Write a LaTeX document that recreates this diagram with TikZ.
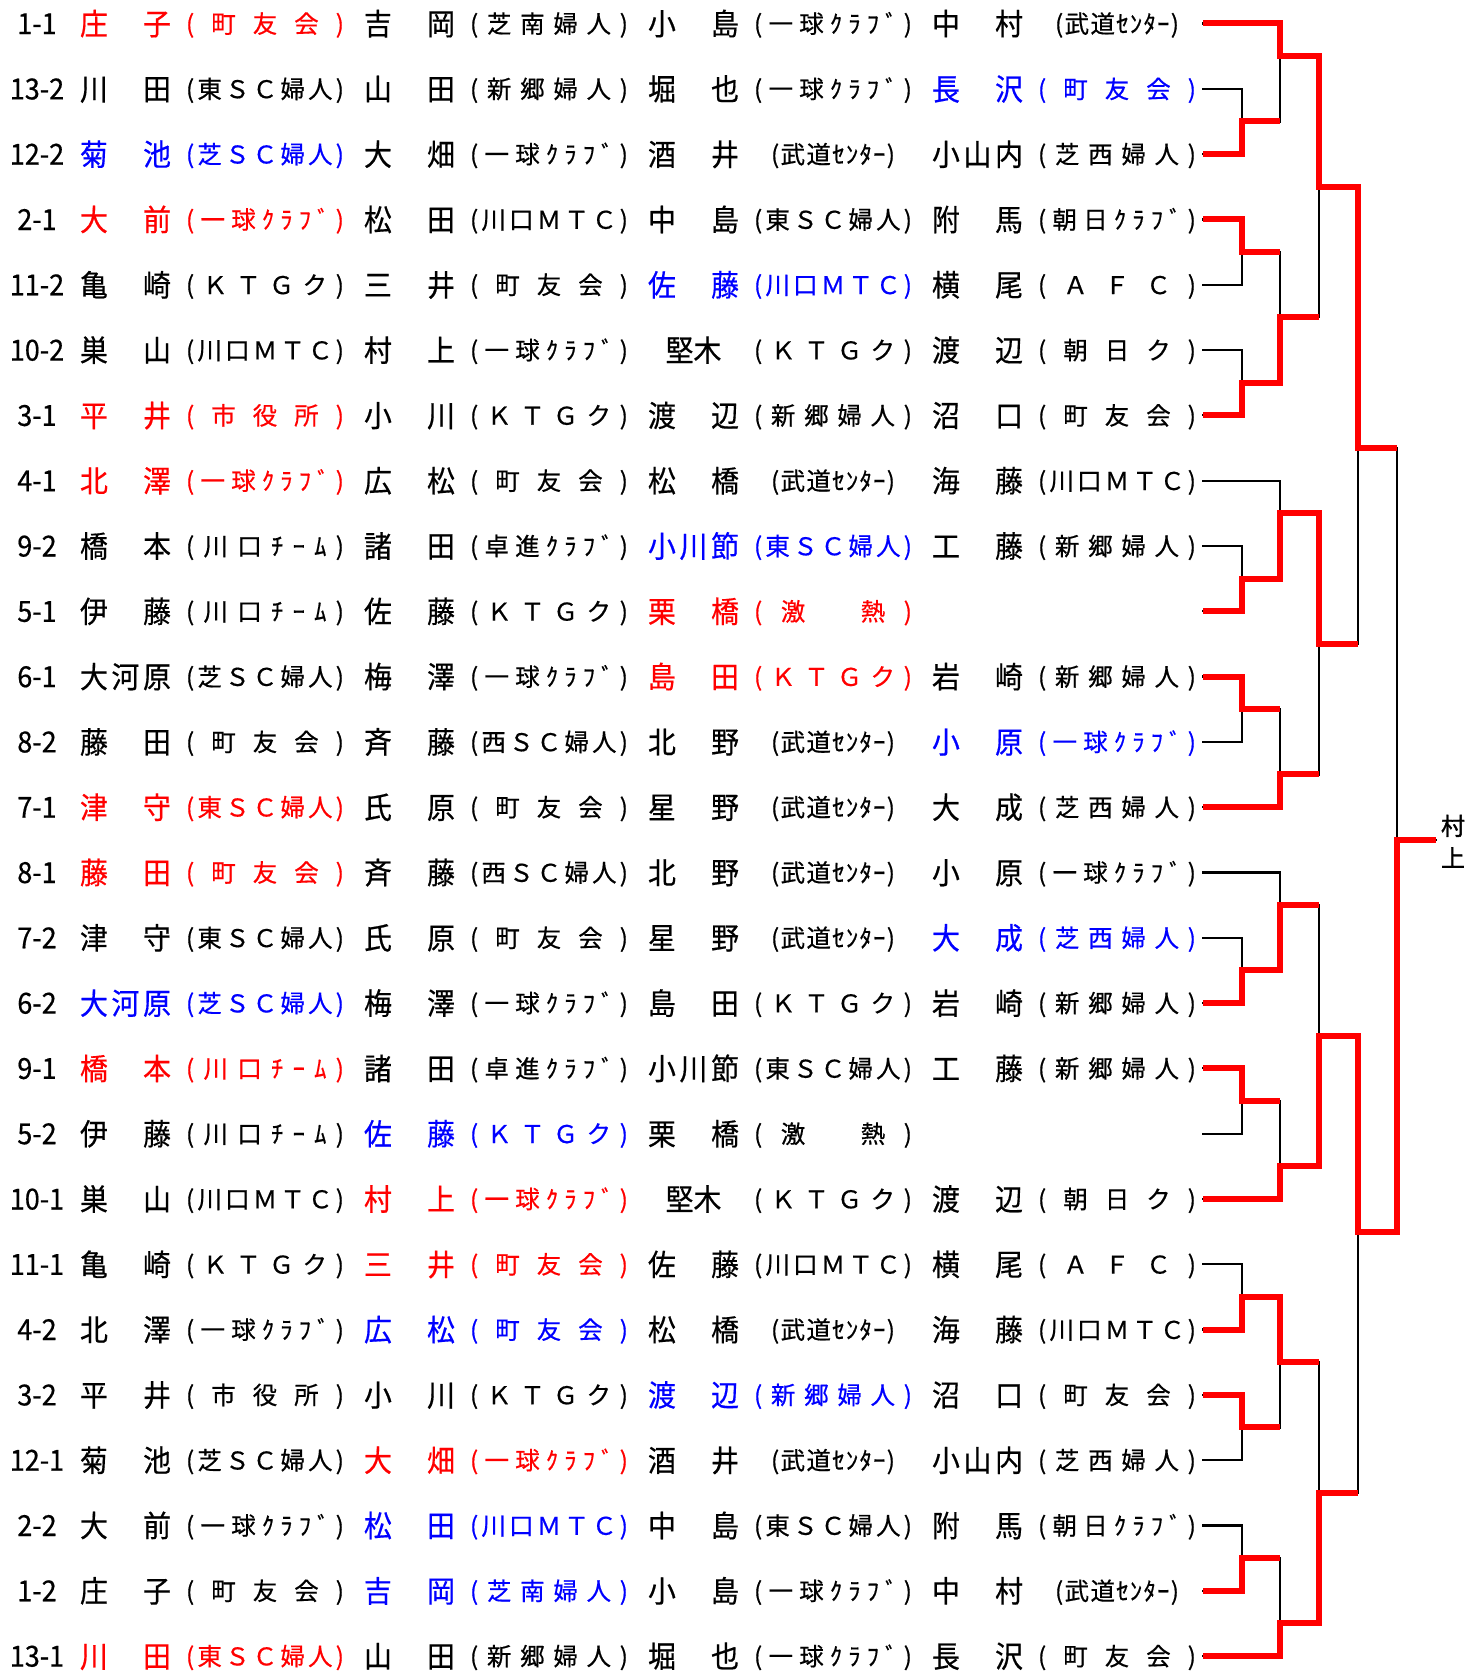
\documentclass[tikz,border=0pt]{standalone}
\usepackage{fontspec}
\newfontfamily\jp[FakeBold=0.5]{Noto Sans CJK JP}
\newfontfamily\jpn[FakeBold=0.5,FakeStretch=0.93]{Noto Sans CJK JP}
\newfontfamily\jpb[FakeBold=1.5]{Noto Sans CJK JP}
\definecolor{rd}{RGB}{255,0,0}
\definecolor{bl}{RGB}{0,0,255}
\makeatletter
\def\spread#1{\spread@a#1\@nil}
\def\spread@a#1{#1\spread@b}
\def\spread@b#1{\ifx\@nil#1\else\hfill#1\expandafter\spread@b\fi}
\makeatother
\newcommand\nmbox[1]{\makebox[91pt][s]{\spread{#1}}}
\newcommand\nmctr[1]{\makebox[91pt][c]{#1}}
\newcommand\clbox[1]{\makebox[158pt][s]{\spread{(#1)}}}
\newcommand\cwbox[1]{\makebox[124pt][s]{\spread{(#1)}}}
\newcommand\gkbox{\makebox[158pt][s]{(\hfill 激\hfill\hfill\hfill 熱\hfill )}}
\newcommand\ry[1]{(23.5+(#1-1)*65.3)}
\tikzset{
  nmtxt/.style={inner sep=0pt, anchor=base, font=\jpn\fontsize{30}{32}\selectfont},
  cltxt/.style={inner sep=0pt, anchor=base, font=\jp\fontsize{24.5}{26}\selectfont},
  lbtxt/.style={inner sep=0pt, anchor=base, font=\jpn\fontsize{29}{30}\selectfont},
  wintxt/.style={inner sep=0pt, anchor=base, font=\jpb\fontsize{24}{26}\selectfont},
  blk/.style={draw=black, line width=2.2pt, line cap=rect, line join=miter},
  redl/.style={draw=rd, line width=6pt, line cap=butt, line join=miter},
}
\newcommand\lab[2]{\node[lbtxt] (l#1) at (37,{\ry{#1}+10.6}) {#2};}
\newcommand\cell[5]{%
  \node[nmtxt, text=#3] (n#1x#2) at ({80+284*(#2-1)+45.5},{\ry{#1}+11.5}) {#4};
  \node[cltxt, text=#3] (k#1x#2) at ({80+284*(#2-1)+185},{\ry{#1}+9.4}) {#5};}
\begin{document}
\begin{tikzpicture}[x=1pt,y=-1pt]
\useasboundingbox (0,0) rectangle (1483,1672);
\fill[white] (0,0) rectangle (1483,1672);
% ---------- rows ----------
\lab{1}{1-1}
\cell{1}{1}{rd}{\nmbox{庄子}}{\clbox{町友会}}
\cell{1}{2}{black}{\nmbox{吉岡}}{\clbox{芝南婦人}}
\cell{1}{3}{black}{\nmbox{小島}}{\clbox{一球ｸﾗﾌﾞ}}
\cell{1}{4}{black}{\nmbox{中村}}{\cwbox{武道ｾﾝﾀｰ}}
\lab{2}{13-2}
\cell{2}{1}{black}{\nmbox{川田}}{\clbox{東ＳＣ婦人}}
\cell{2}{2}{black}{\nmbox{山田}}{\clbox{新郷婦人}}
\cell{2}{3}{black}{\nmbox{堀也}}{\clbox{一球ｸﾗﾌﾞ}}
\cell{2}{4}{bl}{\nmbox{長沢}}{\clbox{町友会}}
\lab{3}{12-2}
\cell{3}{1}{bl}{\nmbox{菊池}}{\clbox{芝ＳＣ婦人}}
\cell{3}{2}{black}{\nmbox{大畑}}{\clbox{一球ｸﾗﾌﾞ}}
\cell{3}{3}{black}{\nmbox{酒井}}{\cwbox{武道ｾﾝﾀｰ}}
\cell{3}{4}{black}{\nmbox{小山内}}{\clbox{芝西婦人}}
\lab{4}{2-1}
\cell{4}{1}{rd}{\nmbox{大前}}{\clbox{一球ｸﾗﾌﾞ}}
\cell{4}{2}{black}{\nmbox{松田}}{\clbox{川口ＭＴＣ}}
\cell{4}{3}{black}{\nmbox{中島}}{\clbox{東ＳＣ婦人}}
\cell{4}{4}{black}{\nmbox{附馬}}{\clbox{朝日ｸﾗﾌﾞ}}
\lab{5}{11-2}
\cell{5}{1}{black}{\nmbox{亀崎}}{\clbox{ＫＴＧク}}
\cell{5}{2}{black}{\nmbox{三井}}{\clbox{町友会}}
\cell{5}{3}{bl}{\nmbox{佐藤}}{\clbox{川口ＭＴＣ}}
\cell{5}{4}{black}{\nmbox{横尾}}{\clbox{ＡＦＣ}}
\lab{6}{10-2}
\cell{6}{1}{black}{\nmbox{巣山}}{\clbox{川口ＭＴＣ}}
\cell{6}{2}{black}{\nmbox{村上}}{\clbox{一球ｸﾗﾌﾞ}}
\cell{6}{3}{black}{\nmctr{堅木}}{\clbox{ＫＴＧク}}
\cell{6}{4}{black}{\nmbox{渡辺}}{\clbox{朝日ク}}
\lab{7}{3-1}
\cell{7}{1}{rd}{\nmbox{平井}}{\clbox{市役所}}
\cell{7}{2}{black}{\nmbox{小川}}{\clbox{ＫＴＧク}}
\cell{7}{3}{black}{\nmbox{渡辺}}{\clbox{新郷婦人}}
\cell{7}{4}{black}{\nmbox{沼口}}{\clbox{町友会}}
\lab{8}{4-1}
\cell{8}{1}{rd}{\nmbox{北澤}}{\clbox{一球ｸﾗﾌﾞ}}
\cell{8}{2}{black}{\nmbox{広松}}{\clbox{町友会}}
\cell{8}{3}{black}{\nmbox{松橋}}{\cwbox{武道ｾﾝﾀｰ}}
\cell{8}{4}{black}{\nmbox{海藤}}{\clbox{川口ＭＴＣ}}
\lab{9}{9-2}
\cell{9}{1}{black}{\nmbox{橋本}}{\clbox{川口ﾁｰﾑ}}
\cell{9}{2}{black}{\nmbox{諸田}}{\clbox{卓進ｸﾗﾌﾞ}}
\cell{9}{3}{bl}{\nmbox{小川節}}{\clbox{東ＳＣ婦人}}
\cell{9}{4}{black}{\nmbox{工藤}}{\clbox{新郷婦人}}
\lab{10}{5-1}
\cell{10}{1}{black}{\nmbox{伊藤}}{\clbox{川口ﾁｰﾑ}}
\cell{10}{2}{black}{\nmbox{佐藤}}{\clbox{ＫＴＧク}}
\cell{10}{3}{rd}{\nmbox{栗橋}}{\gkbox}
\lab{11}{6-1}
\cell{11}{1}{black}{\nmbox{大河原}}{\clbox{芝ＳＣ婦人}}
\cell{11}{2}{black}{\nmbox{梅澤}}{\clbox{一球ｸﾗﾌﾞ}}
\cell{11}{3}{rd}{\nmbox{島田}}{\clbox{ＫＴＧク}}
\cell{11}{4}{black}{\nmbox{岩崎}}{\clbox{新郷婦人}}
\lab{12}{8-2}
\cell{12}{1}{black}{\nmbox{藤田}}{\clbox{町友会}}
\cell{12}{2}{black}{\nmbox{斉藤}}{\clbox{西ＳＣ婦人}}
\cell{12}{3}{black}{\nmbox{北野}}{\cwbox{武道ｾﾝﾀｰ}}
\cell{12}{4}{bl}{\nmbox{小原}}{\clbox{一球ｸﾗﾌﾞ}}
\lab{13}{7-1}
\cell{13}{1}{rd}{\nmbox{津守}}{\clbox{東ＳＣ婦人}}
\cell{13}{2}{black}{\nmbox{氏原}}{\clbox{町友会}}
\cell{13}{3}{black}{\nmbox{星野}}{\cwbox{武道ｾﾝﾀｰ}}
\cell{13}{4}{black}{\nmbox{大成}}{\clbox{芝西婦人}}
\lab{14}{8-1}
\cell{14}{1}{rd}{\nmbox{藤田}}{\clbox{町友会}}
\cell{14}{2}{black}{\nmbox{斉藤}}{\clbox{西ＳＣ婦人}}
\cell{14}{3}{black}{\nmbox{北野}}{\cwbox{武道ｾﾝﾀｰ}}
\cell{14}{4}{black}{\nmbox{小原}}{\clbox{一球ｸﾗﾌﾞ}}
\lab{15}{7-2}
\cell{15}{1}{black}{\nmbox{津守}}{\clbox{東ＳＣ婦人}}
\cell{15}{2}{black}{\nmbox{氏原}}{\clbox{町友会}}
\cell{15}{3}{black}{\nmbox{星野}}{\cwbox{武道ｾﾝﾀｰ}}
\cell{15}{4}{bl}{\nmbox{大成}}{\clbox{芝西婦人}}
\lab{16}{6-2}
\cell{16}{1}{bl}{\nmbox{大河原}}{\clbox{芝ＳＣ婦人}}
\cell{16}{2}{black}{\nmbox{梅澤}}{\clbox{一球ｸﾗﾌﾞ}}
\cell{16}{3}{black}{\nmbox{島田}}{\clbox{ＫＴＧク}}
\cell{16}{4}{black}{\nmbox{岩崎}}{\clbox{新郷婦人}}
\lab{17}{9-1}
\cell{17}{1}{rd}{\nmbox{橋本}}{\clbox{川口ﾁｰﾑ}}
\cell{17}{2}{black}{\nmbox{諸田}}{\clbox{卓進ｸﾗﾌﾞ}}
\cell{17}{3}{black}{\nmbox{小川節}}{\clbox{東ＳＣ婦人}}
\cell{17}{4}{black}{\nmbox{工藤}}{\clbox{新郷婦人}}
\lab{18}{5-2}
\cell{18}{1}{black}{\nmbox{伊藤}}{\clbox{川口ﾁｰﾑ}}
\cell{18}{2}{bl}{\nmbox{佐藤}}{\clbox{ＫＴＧク}}
\cell{18}{3}{black}{\nmbox{栗橋}}{\gkbox}
\lab{19}{10-1}
\cell{19}{1}{black}{\nmbox{巣山}}{\clbox{川口ＭＴＣ}}
\cell{19}{2}{rd}{\nmbox{村上}}{\clbox{一球ｸﾗﾌﾞ}}
\cell{19}{3}{black}{\nmctr{堅木}}{\clbox{ＫＴＧク}}
\cell{19}{4}{black}{\nmbox{渡辺}}{\clbox{朝日ク}}
\lab{20}{11-1}
\cell{20}{1}{black}{\nmbox{亀崎}}{\clbox{ＫＴＧク}}
\cell{20}{2}{rd}{\nmbox{三井}}{\clbox{町友会}}
\cell{20}{3}{black}{\nmbox{佐藤}}{\clbox{川口ＭＴＣ}}
\cell{20}{4}{black}{\nmbox{横尾}}{\clbox{ＡＦＣ}}
\lab{21}{4-2}
\cell{21}{1}{black}{\nmbox{北澤}}{\clbox{一球ｸﾗﾌﾞ}}
\cell{21}{2}{bl}{\nmbox{広松}}{\clbox{町友会}}
\cell{21}{3}{black}{\nmbox{松橋}}{\cwbox{武道ｾﾝﾀｰ}}
\cell{21}{4}{black}{\nmbox{海藤}}{\clbox{川口ＭＴＣ}}
\lab{22}{3-2}
\cell{22}{1}{black}{\nmbox{平井}}{\clbox{市役所}}
\cell{22}{2}{black}{\nmbox{小川}}{\clbox{ＫＴＧク}}
\cell{22}{3}{bl}{\nmbox{渡辺}}{\clbox{新郷婦人}}
\cell{22}{4}{black}{\nmbox{沼口}}{\clbox{町友会}}
\lab{23}{12-1}
\cell{23}{1}{black}{\nmbox{菊池}}{\clbox{芝ＳＣ婦人}}
\cell{23}{2}{rd}{\nmbox{大畑}}{\clbox{一球ｸﾗﾌﾞ}}
\cell{23}{3}{black}{\nmbox{酒井}}{\cwbox{武道ｾﾝﾀｰ}}
\cell{23}{4}{black}{\nmbox{小山内}}{\clbox{芝西婦人}}
\lab{24}{2-2}
\cell{24}{1}{black}{\nmbox{大前}}{\clbox{一球ｸﾗﾌﾞ}}
\cell{24}{2}{bl}{\nmbox{松田}}{\clbox{川口ＭＴＣ}}
\cell{24}{3}{black}{\nmbox{中島}}{\clbox{東ＳＣ婦人}}
\cell{24}{4}{black}{\nmbox{附馬}}{\clbox{朝日ｸﾗﾌﾞ}}
\lab{25}{1-2}
\cell{25}{1}{black}{\nmbox{庄子}}{\clbox{町友会}}
\cell{25}{2}{bl}{\nmbox{吉岡}}{\clbox{芝南婦人}}
\cell{25}{3}{black}{\nmbox{小島}}{\clbox{一球ｸﾗﾌﾞ}}
\cell{25}{4}{black}{\nmbox{中村}}{\cwbox{武道ｾﾝﾀｰ}}
\lab{26}{13-1}
\cell{26}{1}{rd}{\nmbox{川田}}{\clbox{東ＳＣ婦人}}
\cell{26}{2}{black}{\nmbox{山田}}{\clbox{新郷婦人}}
\cell{26}{3}{black}{\nmbox{堀也}}{\clbox{一球ｸﾗﾌﾞ}}
\cell{26}{4}{black}{\nmbox{長沢}}{\clbox{町友会}}
% ---------- bracket coordinates ----------
\foreach \i in {1,...,26}{
  \coordinate (s\i) at (1203,{\ry{\i}});
  \coordinate (m\i) at (1203,{\ry{\i}+32.65});
}
\coordinate (A) at (1242,0);
\coordinate (B) at (1280,0);
\coordinate (C) at (1319,0);
\coordinate (D) at (1358,0);
\coordinate (E) at (1397,0);
\coordinate (F) at (1436,0);
% ---------- black skeleton ----------
\foreach \i in {2,4,6,9,11,15,17,20,22,24}{
  \pgfmathtruncatemacro\j{\i+1}
  \path[blk] (s\i) -- (s\i-|A) -- (s\j-|A) -- (s\j);
  \path[blk] (m\i-|A) -- (m\i-|B);
}
\foreach \i in {1,8,13,14,19,26}{ \path[blk] (s\i) -- (s\i-|B); }
\path[blk] (s1-|B) -- (m2-|B);   \path[blk] (m1-|B) -- (m1-|C);
\path[blk] (m4-|B) -- (m6-|B);   \path[blk] (m5-|B) -- (m5-|C);
\path[blk] (s8-|B) -- (m9-|B);   \path[blk] (m8-|B) -- (m8-|C);
\path[blk] (m11-|B) -- (s13-|B); \path[blk] (m12-|B) -- (m12-|C);
\path[blk] (s14-|B) -- (m15-|B); \path[blk] (m14-|B) -- (m14-|C);
\path[blk] (m17-|B) -- (s19-|B); \path[blk] (m18-|B) -- (m18-|C);
\path[blk] (m20-|B) -- (m22-|B); \path[blk] (m21-|B) -- (m21-|C);
\path[blk] (m24-|B) -- (s26-|B); \path[blk] (m25-|B) -- (m25-|C);
\path[blk] (m1-|C) -- (m5-|C);   \path[blk] (m3-|C) -- (m3-|D);
\path[blk] (m8-|C) -- (m12-|C);  \path[blk] (m10-|C) -- (m10-|D);
\path[blk] (m14-|C) -- (m18-|C); \path[blk] (m16-|C) -- (m16-|D);
\path[blk] (m21-|C) -- (m25-|C); \path[blk] (m23-|C) -- (m23-|D);
\path[blk] (m3-|D) -- (m10-|D);  \path[blk] (m7-|D) -- (m7-|E);
\path[blk] (m16-|D) -- (m23-|D); \path[blk] (m19-|D) -- (m19-|E);
\path[blk] (m7-|E) -- (m19-|E);  \path[blk] (m13-|E) -- (m13-|F);
% ---------- winners (red) ----------
\path[redl] (s1) -- (s1-|B) -- (m1-|B) -- (m1-|C) -- (m3-|C) -- (m3-|D) -- (m7-|D) -- (m7-|E);
\path[redl] (s3) -- (s3-|A) -- (m2-|A) -- (m2-|B);
\path[redl] (s4) -- (s4-|A) -- (m4-|A) -- (m4-|B);
\path[redl] (s7) -- (s7-|A) -- (m6-|A) -- (m6-|B) -- (m5-|B) -- (m5-|C);
\path[redl] (s10) -- (s10-|A) -- (m9-|A) -- (m9-|B) -- (m8-|B) -- (m8-|C) -- (m10-|C) -- (m10-|D);
\path[redl] (s11) -- (s11-|A) -- (m11-|A) -- (m11-|B);
\path[redl] (s13) -- (s13-|B) -- (m12-|B) -- (m12-|C);
\path[redl] (s16) -- (s16-|A) -- (m15-|A) -- (m15-|B) -- (m14-|B) -- (m14-|C);
\path[redl] (s17) -- (s17-|A) -- (m17-|A) -- (m17-|B);
\path[redl] (s19) -- (s19-|B) -- (m18-|B) -- (m18-|C) -- (m16-|C) -- (m16-|D) -- (m19-|D) -- (m19-|E) -- (m13-|E) -- (m13-|F);
\path[redl] (s21) -- (s21-|A) -- (m20-|A) -- (m20-|B) -- (m21-|B) -- (m21-|C);
\path[redl] (s22) -- (s22-|A) -- (m22-|A) -- (m22-|B);
\path[redl] (s25) -- (s25-|A) -- (m24-|A) -- (m24-|B);
\path[redl] (s26) -- (s26-|B) -- (m25-|B) -- (m25-|C) -- (m23-|C) -- (m23-|D);
% ---------- champion ----------
\node[wintxt] (w1) at (1453,835) {村};
\node[wintxt] (w2) at (1453,867) {上};
\end{tikzpicture}
\end{document}
